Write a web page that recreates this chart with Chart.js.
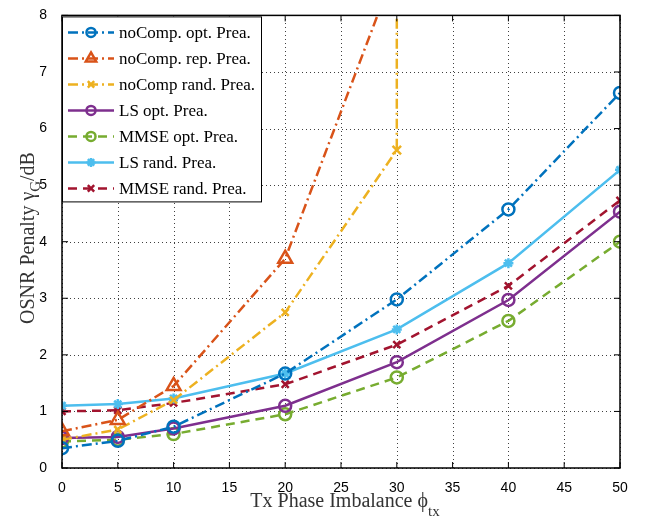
<!DOCTYPE html>
<html><head><meta charset="utf-8">
<script src="https://cdn.jsdelivr.net/npm/chart.js@4"></script>
<style>html,body{margin:0;padding:0;background:#fff}#wrap{width:648px;height:523px}</style>
</head><body><div id="wrap"><canvas id="c" width="648" height="523"></canvas></div>
<script>
const xTicks = [0,5,10,15,20,25,30,35,40,45,50];
const yTicks = [0,1,2,3,4,5,6,7,8];
const xStd = [0,5,10,20,30,40,50];
const noCompOpt = [0.35,0.48,0.73,1.67,2.98,4.57,6.63];
const noCompRepX = [0,5,10,20,30];
const noCompRep = [0.65,0.85,1.45,3.7,8.9];
const noCompRandX = [0,5,10,20,30,30];
const noCompRand = [0.5,0.68,1.2,2.75,5.62,12];
const lsOpt = [0.53,0.55,0.7,1.1,1.87,2.97,4.53];
const mmseOpt = [0.47,0.5,0.6,0.95,1.6,2.6,4.0];
const lsRand = [1.1,1.13,1.23,1.67,2.45,3.62,5.27];
const mmseRand = [1.0,1.02,1.15,1.48,2.18,3.22,4.73];
const labels = ['noComp. opt. Prea.','noComp. rep. Prea.','noComp rand. Prea.','LS opt. Prea.','MMSE opt. Prea.','LS rand. Prea.','MMSE rand. Prea.'];

const pts = (xs, ys) => xs.map((x,i)=>({x:x,y:ys[i]}));
const DASHDOT=[10,4,2,4], DASH=[9,6], SOLID=[];
const C = ['#0072BD','#D95319','#EDB120','#7E2F8E','#77AC30','#4DBEEE','#A2142F'];
function ds(i, data, dash, style, radius){
  return {label:labels[i], data:data, borderColor:C[i], backgroundColor:'rgba(0,0,0,0)',
    pointBorderColor:C[i], pointBackgroundColor:'rgba(0,0,0,0)', borderWidth:2.5, pointBorderWidth:2.5,
    borderDash:dash, pointStyle:style, pointRadius:radius, tension:0, _dash:dash};
}
const datasets = [
  ds(0, pts(xStd,noCompOpt), DASHDOT, 'circle', 6),
  ds(1, pts(noCompRepX,noCompRep), DASHDOT, 'triangle', 8),
  ds(2, pts(noCompRandX,noCompRand), DASHDOT, 'crossRot', [5,5,5,5,6,0]),
  ds(3, pts(xStd,lsOpt), SOLID, 'circle', 6),
  ds(4, pts(xStd,mmseOpt), DASH, 'circle', 6),
  ds(5, pts(xStd,lsRand), SOLID, 'star', 5),
  ds(6, pts(xStd,mmseRand), DASH, 'crossRot', 5)
];

const framePlugin = {
  id:'frame',
  beforeDatasetsDraw(chart){
    const ctx=chart.ctx, a=chart.chartArea, xs=chart.scales.x, ys=chart.scales.y;
    ctx.save();
    ctx.strokeStyle='rgba(0,0,0,0.75)'; ctx.lineWidth=1; ctx.setLineDash([1,3]);
    ctx.beginPath();
    xTicks.forEach(v=>{const p=Math.round(xs.getPixelForValue(v))+0.5; ctx.moveTo(p,a.bottom); ctx.lineTo(p,a.top);});
    yTicks.forEach(v=>{const p=Math.round(ys.getPixelForValue(v))+0.5; ctx.moveTo(a.left,p); ctx.lineTo(a.right,p);});
    ctx.stroke();
    ctx.restore();
  },
  afterDatasetsDraw(chart){
    const ctx=chart.ctx, a=chart.chartArea, xs=chart.scales.x, ys=chart.scales.y;
    ctx.save();
    ctx.strokeStyle='#000'; ctx.lineWidth=1.5; ctx.setLineDash([]);
    ctx.strokeRect(a.left,a.top,a.right-a.left,a.bottom-a.top);
    ctx.lineWidth=1;
    ctx.beginPath();
    xTicks.forEach(v=>{const p=xs.getPixelForValue(v); ctx.moveTo(p,a.bottom); ctx.lineTo(p,a.bottom-6); ctx.moveTo(p,a.top); ctx.lineTo(p,a.top+6);});
    yTicks.forEach(v=>{const p=ys.getPixelForValue(v); ctx.moveTo(a.left,p); ctx.lineTo(a.left+6,p); ctx.moveTo(a.right,p); ctx.lineTo(a.right-6,p);});
    ctx.stroke();
    // legend
    const lx=a.left, ly=a.top+1, lw=199, lh=185;
    ctx.fillStyle='#fff'; ctx.fillRect(lx,ly,lw,lh);
    ctx.strokeStyle='#000'; ctx.lineWidth=1; ctx.strokeRect(lx+0.5,ly+0.5,lw,lh);
    chart.data.datasets.forEach((d,i)=>{
      const cy=ly+16+i*26;
      ctx.strokeStyle=d.borderColor; ctx.lineWidth=2.5; ctx.setLineDash(d._dash);
      ctx.beginPath(); ctx.moveTo(lx+6,cy); ctx.lineTo(lx+52,cy); ctx.stroke();
      ctx.setLineDash([]);
      ctx.fillStyle='rgba(0,0,0,0)'; ctx.strokeStyle=d.borderColor;
      Chart.helpers.drawPoint(ctx,{pointStyle:d.pointStyle, radius:(d.pointStyle==='triangle'?6:4.5), borderWidth:2.5, rotation:0}, lx+29, cy);
      ctx.fillStyle='#000'; ctx.font='17px "Liberation Serif"'; ctx.textBaseline='middle'; ctx.textAlign='left';
      ctx.fillText(d.label, lx+57, cy+1);
    });
    ctx.restore();
  },
  afterDraw(chart){
    const ctx=chart.ctx;
    ctx.save(); ctx.fillStyle='#333'; ctx.textBaseline='alphabetic';
    const big='20px "Liberation Serif"', small='15px "Liberation Serif"';
    ctx.font=big; const t1='Tx Phase Imbalance \u03D5'; const w1=ctx.measureText(t1).width;
    ctx.font=small; const w2=ctx.measureText('tx').width;
    let x0=(chart.chartArea.left+chart.chartArea.right)/2-(w1+w2)/2+4;
    ctx.font=big; ctx.textAlign='left'; ctx.fillText(t1,x0,507);
    ctx.font=small; ctx.fillText('tx',x0+w1,516);
    ctx.translate(34,238);
    ctx.rotate(-Math.PI/2);
    ctx.font=big; const a1='OSNR Penalty \u03B3'; const wa=ctx.measureText(a1).width;
    ctx.font=small; const wb=ctx.measureText('G').width;
    ctx.font=big; const wc=ctx.measureText('/dB').width;
    let s=-(wa+wb+wc)/2;
    ctx.font=big; ctx.fillText(a1,s,0);
    ctx.font=small; ctx.fillText('G',s+wa,6);
    ctx.font=big; ctx.fillText('/dB',s+wa+wb,0);
    ctx.restore();
  }
};

new Chart(document.getElementById('c'),{
  type:'line',
  data:{datasets:datasets},
  plugins:[framePlugin],
  options:{
    responsive:false, animation:false,
    layout:{padding:{top:7,right:28,left:0,bottom:0}},
    plugins:{legend:{display:false},tooltip:{enabled:false}},
    scales:{
      x:{type:'linear',min:0,max:50,
        afterBuildTicks:s=>{s.ticks=xTicks.map(v=>({value:v}));},
        afterFit:s=>{s.height=55;},
        ticks:{color:'#000',font:{family:'"Liberation Sans"',size:14},padding:4,maxRotation:0},
        grid:{display:false},
        border:{display:false}},
      y:{type:'linear',min:0,max:8,
        afterBuildTicks:s=>{s.ticks=yTicks.map(v=>({value:v}));},
        afterFit:s=>{s.width=62;},
        ticks:{color:'#000',font:{family:'"Liberation Sans"',size:14},padding:7},
        grid:{display:false},
        border:{display:false}}
    }
  }
});
</script></body></html>
